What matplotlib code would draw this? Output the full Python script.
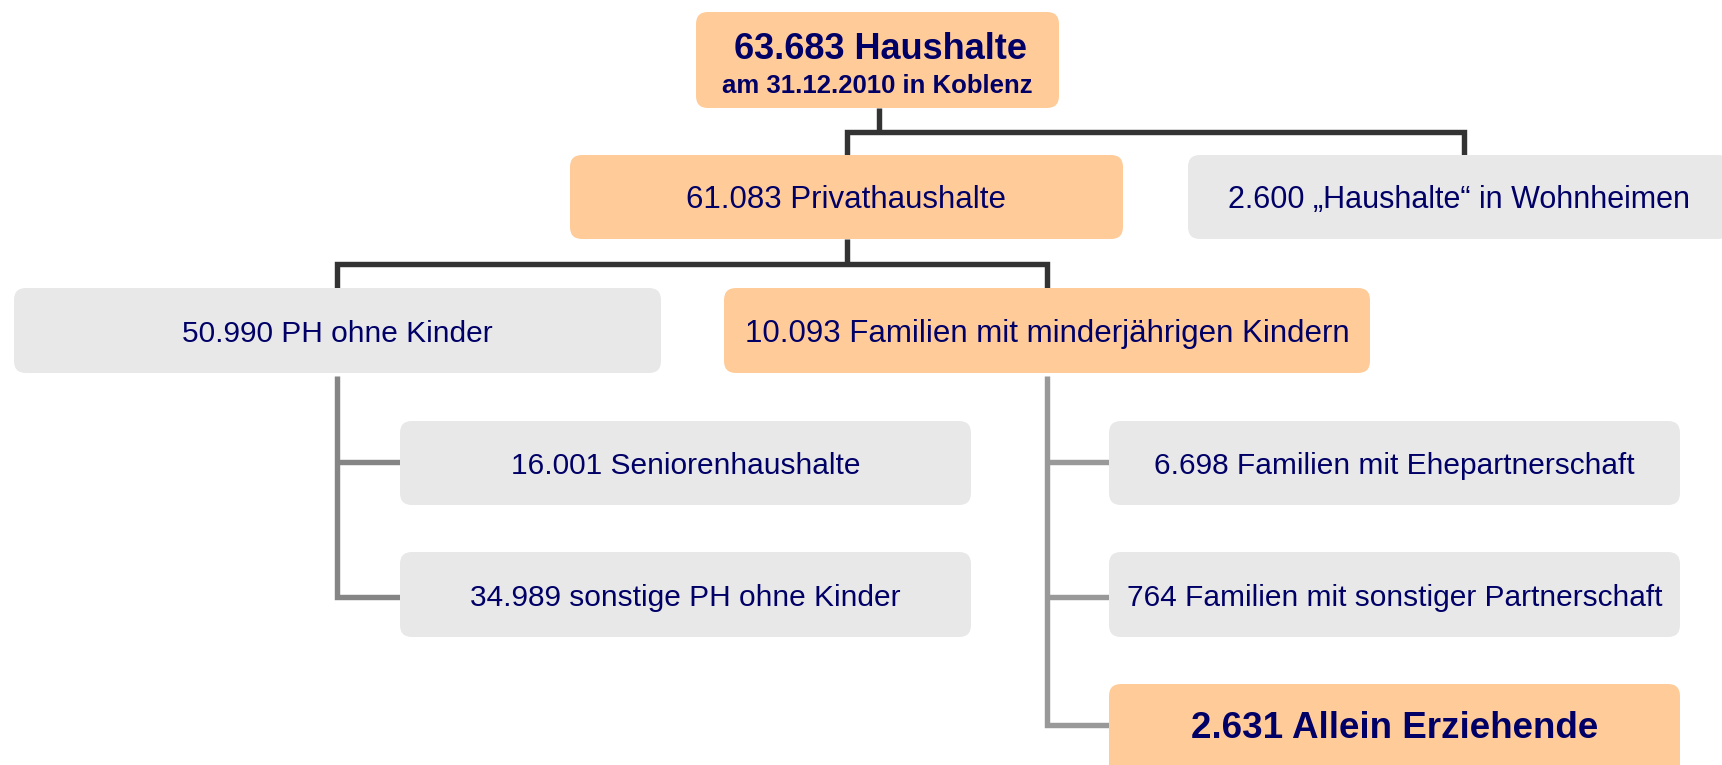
import matplotlib
matplotlib.use("Agg")
import matplotlib.pyplot as plt
from matplotlib.patches import FancyBboxPatch

plt.rcParams['font.family'] = ['Liberation Sans', 'DejaVu Sans']

# household counts, Koblenz 31.12.2010
counts = [63683, 61083, 2600, 50990, 10093, 16001, 34989, 6698, 764, 2631]
names = ["Haushalte", "Privathaushalte", "\u201eHaushalte\u201c in Wohnheimen",
         "PH ohne Kinder", "Familien mit minderjährigen Kindern",
         "Seniorenhaushalte", "sonstige PH ohne Kinder",
         "Familien mit Ehepartnerschaft", "Familien mit sonstiger Partnerschaft",
         "Allein Erziehende"]
subtitle = "am 31.12.2010 in Koblenz"
highlight = [True, True, False, False, True, False, False, False, False, True]

# layout in pixels: x0, y0, x1, y1
boxes = [
    (696, 12, 1059, 108),
    (570, 155, 1123, 239),
    (1188, 155, 1730, 239),
    (14, 288, 661, 373),
    (724, 288, 1370, 373),
    (400, 421, 971, 505),
    (400, 552, 971, 637),
    (1109, 421, 1680, 505),
    (1109, 552, 1680, 637),
    (1109, 684, 1680, 780),
]
sizes = [26, 22.5, 22, 21.5, 22.5, 21.5, 21.5, 21.5, 21.5, 26.5]
bold = [True, False, False, False, False, False, False, False, False, True]

ORANGE = '#FFCC99'
GREY = '#E8E8E8'
NAVY = '#000066'
DARK = '#333333'

def fmt(v):
    return f"{v:,}".replace(",", ".")

fig = plt.figure(figsize=(17.22, 7.65), dpi=100)
ax = fig.add_axes([0, 0, 1, 1])
ax.set_xlim(0, 1722)
ax.set_ylim(765, 0)
ax.axis('off')

def line(xs, ys, color, lw=3.9):
    ax.plot(xs, ys, color=color, lw=lw, solid_capstyle='butt',
            solid_joinstyle='miter', zorder=1)

# dark connectors
line([879, 879], [108, 132], DARK)
line([847, 847, 1464, 1464], [155, 132, 132, 155], DARK)
line([847, 847], [239, 264], DARK)
line([337, 337, 1047, 1047], [288, 264, 264, 288], DARK)

# grey connectors
line([337, 337, 400], [376, 597, 597], '#858585')
line([337, 400], [462, 462], '#858585')
line([1047, 1047, 1109], [376, 725, 725], '#999999')
line([1047, 1109], [462, 462], '#999999')
line([1047, 1109], [597, 597], '#999999')

for i, (x0, y0, x1, y1) in enumerate(boxes):
    ax.add_patch(FancyBboxPatch((x0, y0), x1 - x0, y1 - y0,
                                boxstyle="round,pad=0,rounding_size=12",
                                fc=ORANGE if highlight[i] else GREY,
                                ec='none', zorder=2))
    cx = (x0 + x1) / 2
    txt = f"{fmt(counts[i])} {names[i]}"
    if i == 0:
        ax.text(cx + 3, 49, txt, ha='center', va='center', fontsize=sizes[i],
                fontweight='bold', color=NAVY, zorder=3)
        ax.text(cx, 86, subtitle, ha='center', va='center', fontsize=18.5,
                fontweight='bold', color=NAVY, zorder=3)
    else:
        cy = (y0 + y1) / 2 + 3 if i != 9 else 729
        ax.text(cx, cy, txt, ha='center', va='center', fontsize=sizes[i],
                fontweight='bold' if bold[i] else 'normal', color=NAVY, zorder=3)

fig.savefig('out.png', dpi=100)
